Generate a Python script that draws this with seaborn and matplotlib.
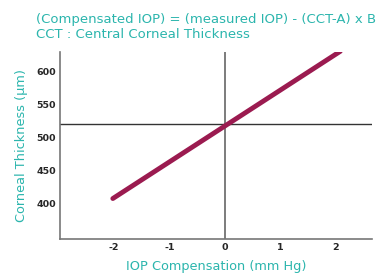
import matplotlib
matplotlib.use("Agg")
import matplotlib.pyplot as plt
import seaborn as sns
import pandas as pd

# data
iop_comp = [-2.02, 2.08]
thickness = [408, 630]
x_ticks = [-2, -1, 0, 1, 2]
x_tick_labels = ['-2', '-1', '0', '1', '2']
y_ticks = [400, 450, 500, 550, 600]
ref_thickness = 520

teal = '#2bb5ad'
line_col = '#9b1b50'

sns.set_style('white')
plt.rcParams['font.family'] = ['DejaVu Sans']

df = pd.DataFrame({'x': iop_comp, 'y': thickness})

fig = plt.figure(figsize=(3.83, 2.75), dpi=100)
ax = fig.add_axes([0.157, 0.131, 0.814, 0.68])

ax.axvline(0, color='#666666', lw=1.2, zorder=1)
ax.axhline(ref_thickness, color='#333333', lw=1.0, zorder=1)
sns.lineplot(data=df, x='x', y='y', color=line_col, lw=3.5, ax=ax, zorder=3)

ax.set_xlim(-2.97, 2.65)
ax.set_ylim(347, 629)
ax.set_xticks(x_ticks)
ax.set_xticklabels(x_tick_labels)
ax.set_yticks(y_ticks)
ax.tick_params(length=0, labelsize=6.8, pad=3)
for lab in ax.get_xticklabels() + ax.get_yticklabels():
    lab.set_fontweight('bold')

for s in ['top', 'right']:
    ax.spines[s].set_visible(False)
for s in ['left', 'bottom']:
    ax.spines[s].set_color('#777777')
    ax.spines[s].set_linewidth(1.2)

ax.set_xlabel('IOP Compensation (mm Hg)', color=teal, fontsize=9.3, labelpad=6)
ax.set_ylabel('Corneal Thickness (µm)', color=teal, fontsize=9.3, labelpad=6)

fig.text(36 / 383, 1 - 23 / 275, '(Compensated IOP) = (measured IOP) - (CCT-A) x B',
         color=teal, fontsize=9.5, va='baseline')
fig.text(36 / 383, 1 - 38 / 275, 'CCT : Central Corneal Thickness',
         color=teal, fontsize=9.5, va='baseline')

fig.savefig('out.png', dpi=100)
